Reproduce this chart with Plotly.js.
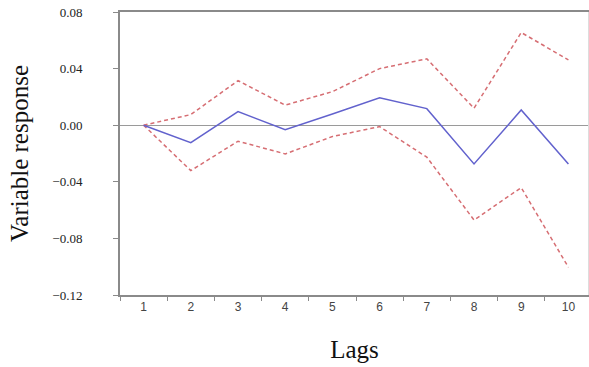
<!DOCTYPE html>
<html>
<head>
<meta charset="utf-8">
<script src="https://cdn.plot.ly/plotly-3.0.1.min.js"></script>
<style>html,body{margin:0;padding:0;background:#fff;}#chart{width:589px;height:367px;}</style>
</head>
<body>
<div id="chart"></div>
<script>
const lags = [1, 2, 3, 4, 5, 6, 7, 8, 9, 10];
const response = [0, -0.0123, 0.0096, -0.0032, 0.0079, 0.0193, 0.0117, -0.0274, 0.0108, -0.0274];
const upperBand = [0, 0.0075, 0.0315, 0.0142, 0.0237, 0.0400, 0.0469, 0.0120, 0.0655, 0.0462];
const lowerBand = [0, -0.0321, -0.0113, -0.0203, -0.0080, -0.0010, -0.0226, -0.0670, -0.0441, -0.1004];
const yTickVals = [0.08, 0.04, 0.00, -0.04, -0.08, -0.12];
const yTickText = ["0.08", "0.04", "0.00", "\u22120.04", "\u22120.08", "\u22120.12"];
const xBoundaries = [0.5, 1.5, 2.5, 3.5, 4.5, 5.5, 6.5, 7.5, 8.5, 9.5];

const SERIF = "'Liberation Serif', 'Times New Roman', serif";
const SANS = "'Liberation Sans', Arial, sans-serif";

const traces = [
  {x: lags, y: upperBand, mode: 'lines', line: {color: 'rgb(214,110,115)', width: 1.5, dash: '4px,3px'}, hoverinfo: 'skip'},
  {x: lags, y: lowerBand, mode: 'lines', line: {color: 'rgb(214,110,115)', width: 1.5, dash: '4px,3px'}, hoverinfo: 'skip'},
  {x: lags, y: response, mode: 'lines', line: {color: 'rgb(98,98,205)', width: 1.5}, hoverinfo: 'skip'}
];

const layout = {
  width: 589, height: 367,
  margin: {l: 120, r: 0, t: 12, b: 72},
  paper_bgcolor: '#fff', plot_bgcolor: '#fff',
  showlegend: false,
  xaxis: {
    range: [0.5, 10.436],
    tickvals: lags, ticktext: lags.map(String),
    ticks: '', showgrid: false, zeroline: false,
    showline: true, linecolor: '#8a8a8a', linewidth: 2, mirror: true,
    tickfont: {family: SANS, size: 12, color: '#444'},
    minor: {tickvals: xBoundaries, ticks: 'outside', ticklen: 4, tickcolor: '#8a8a8a', tickwidth: 1, showgrid: false},
    title: {text: 'Lags', font: {family: SERIF, size: 25, color: '#111'}, standoff: 27}
  },
  yaxis: {
    range: [-0.12, 0.08],
    tickvals: yTickVals, ticktext: yTickText,
    ticks: 'outside', ticklen: 5, tickcolor: '#8a8a8a', tickwidth: 1,
    ticklabelstandoff: 28,
    showgrid: false,
    zeroline: true, zerolinecolor: '#9a9a9a', zerolinewidth: 1,
    showline: true, linecolor: '#8a8a8a', linewidth: 2,
    tickfont: {family: SERIF, size: 13, color: '#222'},
    title: {text: 'Variable response', font: {family: SERIF, size: 25, color: '#111'}, standoff: 17}
  },
  shapes: [
    {type: 'line', xref: 'paper', yref: 'paper', x0: 0.999, x1: 0.999, y0: 0, y1: 1, line: {color: '#dddddd', width: 1}}
  ]
};

Plotly.newPlot('chart', traces, layout, {displayModeBar: false, staticPlot: true});
</script>
</body>
</html>
